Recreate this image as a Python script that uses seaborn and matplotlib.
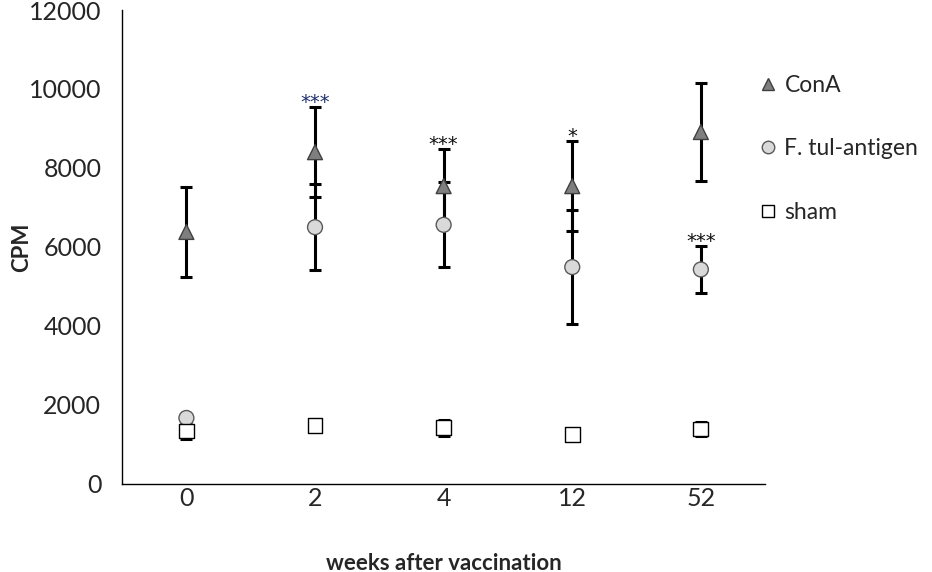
import pandas as pd
import matplotlib
matplotlib.use("Agg")
import matplotlib.pyplot as plt
import seaborn as sns

#  Data

weeks = ["0", "2", "4", "12", "52"]
cona_mean = [6380, 8400, 7540, 7540, 8910]
cona_err = [1150, 1140, 940, 1140, 1240]
ftul_mean = [1670, 6500, 6560, 5490, 5430]
ftul_err = [80, 1090, 1080, 1440, 600]
sham_mean = [1340, 1470, 1420, 1260, 1390]
sham_err = [200, 60, 200, 110, 180]
sig_labels = ["", "***", "***", "*", "***"]
sig_series = ["", "ConA", "ConA", "ConA", "F. tul-antigen"]

series = ["ConA", "F. tul-antigen", "sham"]
means = {"ConA": cona_mean, "F. tul-antigen": ftul_mean, "sham": sham_mean}
errs = {"ConA": cona_err, "F. tul-antigen": ftul_err, "sham": sham_err}

rows = []
for s in series:
    for i, w in enumerate(weeks):
        rows.append({"week": w, "pos": i, "group": s,
                     "CPM": means[s][i], "err": errs[s][i]})
df = pd.DataFrame(rows)

#  Plot

sns.set_style("white")
plt.rcParams["font.family"] = ["Lato", "DejaVu Sans"]

fig, ax = plt.subplots(figsize=(9.32, 5.72), dpi=100)
fig.subplots_adjust(left=0.131, right=0.821, top=0.9825, bottom=0.154)

styles = {
    "ConA": dict(marker="^", color="#7f7f7f", edge="#404040"),
    "F. tul-antigen": dict(marker="o", color="#d9d9d9", edge="#595959"),
    "sham": dict(marker="s", color="white", edge="black"),
}

for s in series:
    d = df[df["group"] == s]
    ax.errorbar(d["pos"], d["CPM"], yerr=d["err"], fmt="none", ecolor="black",
                elinewidth=2.2, capsize=4, capthick=2.2, zorder=2)

sns.scatterplot(data=df, x="pos", y="CPM", hue="group", style="group",
                hue_order=series, style_order=series,
                markers={s: styles[s]["marker"] for s in series},
                palette={s: styles[s]["color"] for s in series},
                legend=False, ax=ax, zorder=3, s=115, linewidth=1.0,
                edgecolor=[styles[g]["edge"] for g in df["group"]])

# significance stars
for i, lab in enumerate(sig_labels):
    if not lab:
        continue
    s = sig_series[i]
    top = means[s][i] + errs[s][i]
    col = "#1f2f6f" if i == 1 else "#111111"
    ax.text(i, top - 120, lab, ha="center", va="bottom", fontsize=14,
            color=col, family="DejaVu Sans")

ax.set_xlim(-0.5, 4.5)
ax.set_ylim(0, 12000)
ax.set_yticks(range(0, 12001, 2000))
ax.set_xticks(range(len(weeks)))
ax.set_xticklabels(weeks)
ax.set_xticks([i - 0.5 for i in range(len(weeks) + 1)], minor=True)
ax.tick_params(axis="x", which="major", length=0, pad=2, labelsize=18)
ax.tick_params(axis="x", which="minor", length=7, width=1, direction="out",
               color="black")
ax.tick_params(axis="y", length=7, width=1, direction="out", labelsize=18,
               pad=8, color="black")
sns.despine(ax=ax)
for sp in ["left", "bottom"]:
    ax.spines[sp].set_color("black")
    ax.spines[sp].set_linewidth(1)

ax.set_xlabel("weeks after vaccination", fontsize=16, fontweight="bold",
              labelpad=31)
ax.set_ylabel("CPM", fontsize=16, fontweight="bold")
ax.yaxis.set_label_coords(-0.14, 0.5)

# legend on the right
handles = [plt.Line2D([], [], marker=styles[s]["marker"], linestyle="none",
                      markerfacecolor=styles[s]["color"],
                      markeredgecolor=styles[s]["edge"], markersize=9)
           for s in series]
fig.legend(handles, series, loc="upper left", bbox_to_anchor=(0.79, 0.905),
           frameon=False, fontsize=16.5, handletextpad=0.2, labelspacing=1.85,
           handlelength=1.0)

plt.savefig("out.png", dpi=100)
